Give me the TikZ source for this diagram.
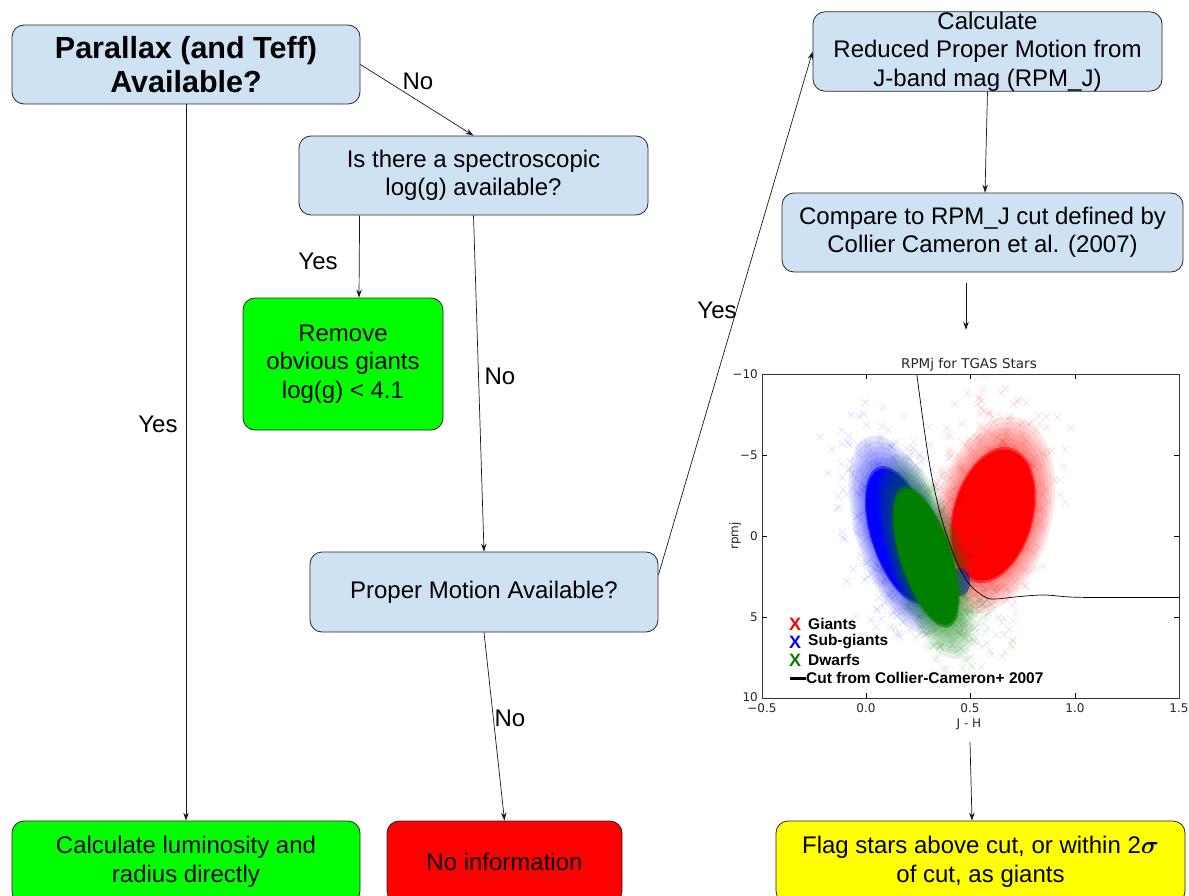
\documentclass[tikz,border=0pt]{standalone}
\usepackage{fontspec}
\setmainfont{Liberation Sans}
\newfontfamily\dejavu{DejaVu Sans}
\usetikzlibrary{arrows.meta,calc}
\definecolor{boxblue}{HTML}{CFE2F3}
\definecolor{boxgreen}{HTML}{00FF00}
\definecolor{boxred}{HTML}{FF0000}
\definecolor{boxyellow}{HTML}{FFFF00}
\definecolor{pltred}{HTML}{FF0000}
\definecolor{pltblue}{HTML}{0000FF}
\definecolor{pltgreen}{HTML}{007F00}
\newcommand\myscat[8]{%
 \foreach \i in {1,...,#2}{%
   \pgfmathsetmacro\ua{rand+rand+rand}%
   \pgfmathsetmacro\ub{rand+rand+rand}%
   \pgfmathsetmacro\px{#3+(\ua)*#5*cos(#7)+(\ub)*#6*sin(#7)}%
   \pgfmathsetmacro\py{#4-(\ua)*#5*sin(#7)+(\ub)*#6*cos(#7)}%
   \draw[#1, opacity=#8, line width=0.5pt] (\px-3.5,\py-3.5) -- (\px+3.5,\py+3.5) (\px-3.5,\py+3.5) -- (\px+3.5,\py-3.5);
 }}
\newcommand\myblob[6]{%
 \foreach \s in {1.5,1.42,1.34,1.26,1.18,1.1}{%
   \fill[#1, opacity=0.1, rotate around={#6:(#2,#3)}] (#2,#3) ellipse [x radius=\s*#4, y radius=\s*#5];
 }%
 \fill[#1, opacity=0.6, rotate around={#6:(#2,#3)}] (#2,#3) ellipse [x radius=1.04*#4, y radius=1.04*#5];
 \fill[#1, rotate around={#6:(#2,#3)}] (#2,#3) ellipse [x radius=#4, y radius=#5];
}
\begin{document}
\begin{tikzpicture}[x=1pt,y=-1pt,
  box/.style={draw=black!85, line width=0.8pt, rounded corners=12pt, align=center, inner sep=0pt, font=\fontsize{24}{28.5}\selectfont},
  arr/.style={-{Stealth[length=8pt,width=5.5pt]}, line width=0.7pt, draw=black!90},
  lbl/.style={font=\fontsize{24}{26}\selectfont, inner sep=0pt},
  tck/.style={font=\dejavu\fontsize{12}{13}\selectfont, text=black!85, inner sep=0pt},
  leg/.style={font=\bfseries\fontsize{15.5}{16}\selectfont, inner sep=0pt, anchor=west},
  legx/.style={font=\bfseries\fontsize{18}{18}\selectfont, inner sep=0pt}
]
\useasboundingbox (0,0) rectangle (1189,896);
\clip (0,0) rectangle (1189,896);

% ---- boxes ----
\node[box, fill=boxblue, minimum width=348pt, minimum height=79pt, font=\bfseries\fontsize{30.5}{34}\selectfont] (par) at (186,64.5) {Parallax (and Teff)\\Available?};
\node[box, fill=boxblue, minimum width=349pt, minimum height=79pt] (spec) at (473.5,175.5) {Is there a spectroscopic\\log(g) available?};
\node[box, fill=boxgreen, minimum width=200pt, minimum height=132pt] (rem) at (343,364) {Remove\\obvious giants\\log(g) < 4.1};
\node[box, fill=boxblue, minimum width=348pt, minimum height=80pt] (pm) at (484,592) {Proper Motion Available?};
\node[box, fill=boxgreen, minimum width=348pt, minimum height=82pt] (lum) at (186,862) {Calculate luminosity and\\radius directly};
\node[box, fill=boxred, minimum width=235pt, minimum height=82pt] (noinf) at (504.5,862) {No information};
\node[box, fill=boxyellow, minimum width=409pt, minimum height=82pt] (flag) at (980.5,862) {Flag stars above cut, or within 2{\boldmath$\sigma$}\\of cut, as giants};
\node[box, fill=boxblue, minimum width=349pt, minimum height=79pt] (rpm) at (987.5,51.5) {Calculate\\Reduced Proper Motion from\\J-band mag (RPM\_J)};
\node[box, fill=boxblue, minimum width=401pt, minimum height=79pt] (cmp) at (982.5,232.5) {Compare to RPM\_J cut defined by\\Collier Cameron et al. (2007)};

% ---- plot region (image) ----
\node[minimum width=460pt, minimum height=412pt, inner sep=0pt] (plot) at (955,536) {};

\begin{scope}
\clip (762,374) rectangle (1179,698);
\pgfmathsetseed{7}
\myscat{pltred}{650}{990}{505}{28}{50}{-12}{0.16}
\myblob{pltred}{993}{515}{39}{67}{-15}
\myscat{pltblue}{450}{898}{528}{26}{52}{15}{0.15}
\myblob{pltblue}{901}{535}{29}{69}{18}
\fill[pltblue, opacity=0.6] (960,582) ellipse [x radius=10, y radius=14];
\myscat{pltgreen}{420}{935}{580}{24}{44}{20}{0.16}
\myscat{pltgreen}{100}{965}{615}{22}{20}{0}{0.16}
\myblob{pltgreen}{926}{557}{25}{71}{18}
\draw[line width=0.7pt] plot[smooth, tension=0.6] coordinates {(916.5,372) (928,455) (938,505) (947,536) (958,565) (970,585) (985,597) (995,599) (1015,597) (1043,595) (1070,597) (1100,597.5) (1180,597.5)};
\end{scope}
\draw[line width=0.6pt, black!80] (762,374) rectangle (1179,698);
\foreach \x in {866,970,1075} { \draw[line width=0.5pt] (\x,374) -- (\x,379); \draw[line width=0.5pt] (\x,698) -- (\x,693); }
\foreach \y in {455,536,617} { \draw[line width=0.5pt] (762,\y) -- (767,\y); \draw[line width=0.5pt] (1179,\y) -- (1174,\y); }
\foreach \x/\t in {762/−0.5, 866/0.0, 970/0.5, 1075/1.0, 1179/1.5} { \node[tck] at (\x,708) {\t}; }
\foreach \y/\t in {374/−10, 455/−5, 536/0, 617/5, 697/10} { \node[tck, anchor=east] at (758,\y) {\t}; }
\node[tck, font=\dejavu\fontsize{13.5}{15}\selectfont] at (969,365) {RPMj for TGAS Stars};
\node[tck] at (969,724) {J - H};
\node[tck, rotate=90] at (735,536) {rpmj};
\node[legx, text=pltred] at (795,624) {X};
\node[legx, text=pltblue] at (795,642) {X};
\node[legx, text=pltgreen] at (795,660) {X};
\node[leg] at (808,624) {Giants};
\node[leg] at (808,642) {Sub-giants};
\node[leg] at (808,660) {Dwarfs};
\draw[line width=3pt] (790,678) -- (806,678);
\node[leg] at (806,678) {Cut from Collier-Cameron+ 2007};

% ---- connectors ----
\draw[arr] (par.south) -- (lum.north);
\node[lbl] at (158,424) {Yes};
\draw[arr] (par.east) -- (spec.north);
\node[lbl] at (418,81) {No};
\draw[arr] ($(spec.south west)+(61,0)$) -- ($(rem.north)+(16,0)$);
\node[lbl] at (318,261) {Yes};
\draw[arr] (spec.south) -- (pm.north);
\node[lbl] at (500,376) {No};
\draw[arr] ($(pm.east)+(0,-17)$) -- (rpm.west);
\node[lbl] at (717,310) {Yes};
\draw[arr] (pm.south) -- (noinf.north);
\node[lbl] at (510,718) {No};
\draw[arr] (rpm.south) -- ($(cmp.north)+(2.5,0)$);
\coordinate (c1) at (966,283);
\draw[arr] (c1) -- (c1 |- plot.north);
\coordinate (c2) at (970,742);
\draw[arr] (c2) -- ($(flag.north)+(-8.5,0)$);
\end{tikzpicture}
\end{document}
